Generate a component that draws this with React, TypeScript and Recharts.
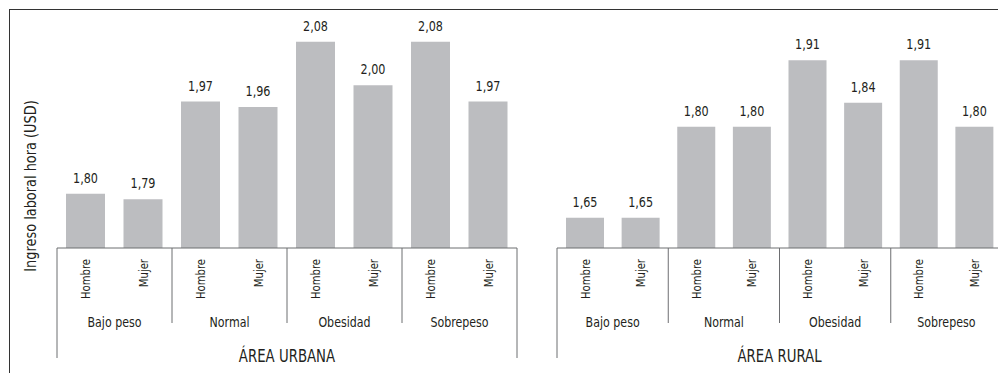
import React from 'react';
import { BarChart, Bar, XAxis, YAxis, LabelList } from 'recharts';

const sexos = ['Hombre', 'Mujer'];
const grupos = ['Bajo peso', 'Normal', 'Obesidad', 'Sobrepeso'];
const urbanoValores = [1.8, 1.79, 1.97, 1.96, 2.08, 2.0, 2.08, 1.97];
const ruralValores = [1.65, 1.65, 1.8, 1.8, 1.91, 1.84, 1.91, 1.8];

const FONT = "'DejaVu Sans Condensed', 'Liberation Sans Narrow', sans-serif";
const TEXT = '#231f20';
const BAR = '#bcbdc0';
const AXIS = '#6d6e71';
const AXIS_Y = 248;
const H = 373;
const SX = 0.86; // extra horizontal squeeze for a narrow face

type Row = { key: string; sexo: string; grupo: string; valor: number };

const buildRows = (valores: number[]): Row[] =>
  grupos.flatMap((g, gi) =>
    sexos.map((s, si) => ({ key: `${g}-${s}`, sexo: s, grupo: g, valor: valores[gi * 2 + si] }))
  );

const urbano = buildRows(urbanoValores);
const rural = buildRows(ruralValores);

const fmt = (v: any) => Number(v).toFixed(2).replace('.', ',');

const CText = ({ x, y, size, anchor = 'middle', rotate = 0, dy, children }: any) => (
  <text
    transform={`translate(${x},${y}) rotate(${rotate}) scale(${SX},1)`}
    fontSize={size}
    textAnchor={anchor}
    dy={dy}
    fontFamily={FONT}
    fill={TEXT}
  >
    {children}
  </text>
);

// multi-level tick: rotated sex label, group label + separators, area title
const makeTick = (rows: Row[], band: number, area: string) => (props: any) => {
  const { x, payload } = props;
  const i = payload.index;
  const row = rows[i];
  const last = i === rows.length - 1;
  return (
    <g>
      <CText x={x} y={259} rotate={-90} anchor="end" dy="0.36em" size={13}>
        {row.sexo}
      </CText>
      {i % 2 === 0 && (
        <line x1={x - band / 2} x2={x - band / 2} y1={AXIS_Y} y2={i === 0 ? 358 : 323} stroke={AXIS} strokeWidth={1} />
      )}
      {last && <line x1={x + band / 2} x2={x + band / 2} y1={AXIS_Y} y2={358} stroke={AXIS} strokeWidth={1} />}
      {i % 2 === 1 && (
        <CText x={x - band / 2} y={327} size={14.3}>
          {row.grupo}
        </CText>
      )}
      {i === 3 && (
        <CText x={x + band / 2} y={362} size={17.2}>
          {area}
        </CText>
      )}
    </g>
  );
};

const ValueLabel = (props: any) => {
  const { x, y, width, value } = props;
  return (
    <CText x={x + width / 2} y={y - 11} size={14.5}>
      {fmt(value)}
    </CText>
  );
};

const YLabel = () => (
  <CText x={36} y={186} rotate={-90} size={16.7}>
    Ingreso laboral hora (USD)
  </CText>
);

export default function App() {
  const urbanBand = 460 / 8;
  const ruralBand = 445 / 8;
  return (
    <div style={{ position: 'absolute', left: 0, top: 0, width: 998, height: H, overflow: 'hidden', background: '#fff' }}>
      {/* frame */}
      <div style={{ position: 'absolute', left: 9, top: 9, width: 1000, height: 400, borderLeft: '1.5px solid #333', borderTop: '1.5px solid #333' }} />

      <div style={{ position: 'absolute', left: 0, top: 0 }}>
        <BarChart width={540} height={H} data={urbano} margin={{ top: 31, right: 23, bottom: 0, left: 10 }}>
          <XAxis
            dataKey="key"
            interval={0}
            tickLine={false}
            stroke={AXIS}
            tick={makeTick(urbano, urbanBand, 'ÁREA URBANA')}
            height={H - AXIS_Y}
          />
          <YAxis
            type="number"
            domain={[1.7, 2.1]}
            width={47}
            tick={false}
            axisLine={false}
            tickLine={false}
            label={{ content: YLabel }}
          />
          <Bar dataKey="valor" fill={BAR} barSize={39} isAnimationActive={false}>
            <LabelList dataKey="valor" content={ValueLabel} />
          </Bar>
        </BarChart>
      </div>

      <div style={{ position: 'absolute', left: 540, top: 0 }}>
        <BarChart width={480} height={H} data={rural} margin={{ top: 36, right: 18, bottom: 0, left: 17 }}>
          <XAxis
            dataKey="key"
            interval={0}
            tickLine={false}
            stroke={AXIS}
            tick={makeTick(rural, ruralBand, 'ÁREA RURAL')}
            height={H - AXIS_Y}
          />
          <YAxis type="number" domain={[1.6, 1.95]} hide />
          <Bar dataKey="valor" fill={BAR} barSize={38} isAnimationActive={false}>
            <LabelList dataKey="valor" content={ValueLabel} />
          </Bar>
        </BarChart>
      </div>
    </div>
  );
}
